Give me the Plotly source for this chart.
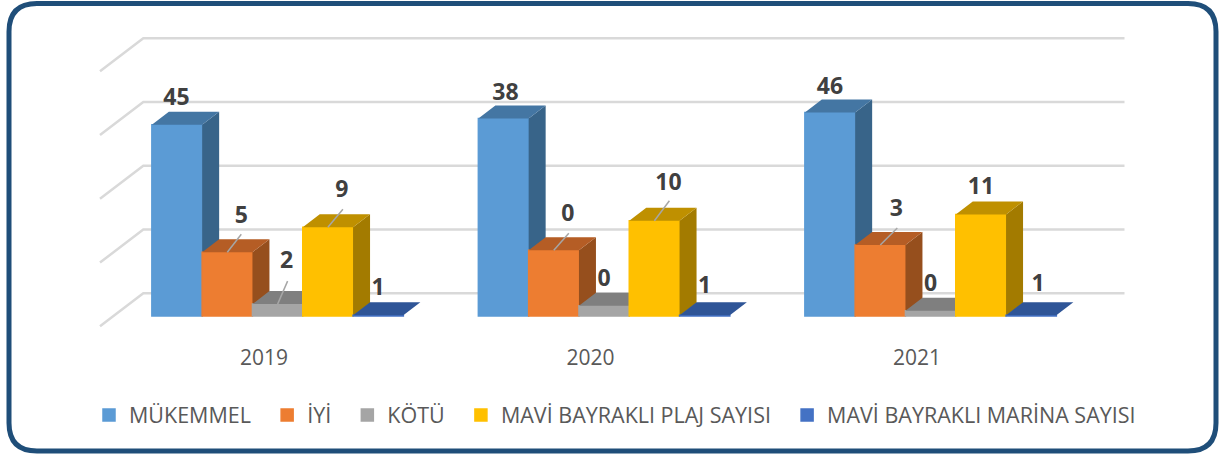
import plotly.graph_objects as go

YEARS = [2019, 2020, 2021]
SERIES = ["MÜKEMMEL", "İYİ", "KÖTÜ", "MAVİ BAYRAKLI PLAJ SAYISI", "MAVİ BAYRAKLI MARİNA SAYISI"]
# bar heights as drawn
MUKEMMEL = [45, 46.5, 47.9]
IYI = [15, 15.5, 16.7]
KOTU = [2.8, 2.4, 1.25]
PLAJ = [20.9, 22.4, 23.9]
MARINA = [0.2, 0.2, 0.2]
HEIGHTS = [MUKEMMEL, IYI, KOTU, PLAJ, MARINA]
# labels as printed on the chart
LABEL_MUKEMMEL = ["45", "38", "46"]
LABEL_IYI = ["5", "0", "3"]
LABEL_KOTU = ["2", "0", "0"]
LABEL_PLAJ = ["9", "10", "11"]
LABEL_MARINA = ["1", "1", "1"]
LABELS = [LABEL_MUKEMMEL, LABEL_IYI, LABEL_KOTU, LABEL_PLAJ, LABEL_MARINA]

# ---- styling / layout ----
W, H = 1220, 454
PL, PR, PT, PB = 95, 1130, 30, 340
PX_X = 326.5          # pixels per year
PX_Y = 4.25           # pixels per value unit
X_REF_PX, Y0_PX = 277.6, 316
FRONT = ["#5B9BD5", "#ED7D31", "#A5A5A5", "#FFC000", "#4472C4"]
TOP = ["#4476A3", "#B55D25", "#7F7F7F", "#BF9000", "#2F5597"]
SIDE = ["#386489", "#964F1D", "#6E6E6E", "#A37B00", "#264478"]
BAR_W = 50.3 / PX_X
DX = 17 / PX_X
DY = 13 / PX_Y
LABEL_DX = [[-0.5, 14, 9, 14, 0], [2, 14, 0, 14, 0], [0, 16, 0, 0, 7]]
LABEL_DY = [[25.2, 35.5, 41.5, 35.5, 25.5], [24.5, 34.5, 25.5, 36.5, 27.5], [24.5, 34.5, 25.5, 26.5, 29.5]]
LEADERS = [(0, 1, 14, 18), (0, 2, 10, 23), (0, 3, 15, 18), (1, 1, 15, 17), (1, 3, 15, 20), (2, 1, 17, 17)]
FONT = "Open Sans"
LEGEND_PAD = "\u00a0\u00a0"


def px2x(p):
    return YEARS[0] + (p - X_REF_PX) / PX_X


def px2y(p):
    return (Y0_PX - p) / PX_Y


fig = go.Figure()

# wall and floor gridlines
gx, gy = [], []
for k in range(5):
    back_y = 293.3 - 63.75 * k
    gx += [px2x(100), px2x(143.3), px2x(1124.5), None]
    gy += [px2y(back_y + 33), px2y(back_y), px2y(back_y), None]
fig.add_trace(go.Scatter(x=gx, y=gy, mode="lines", line=dict(color="#D9D9D9", width=2.5),
                         showlegend=False, hoverinfo="skip", zorder=0))

for s, name in enumerate(SERIES):
    vals = HEIGHTS[s]
    off = (s - 2.5) * BAR_W
    fig.add_trace(go.Bar(x=YEARS, y=vals, name=name + LEGEND_PAD, width=BAR_W, offset=off,
                         marker=dict(color=FRONT[s], line=dict(width=1.5, color=FRONT[s])), zorder=s + 1))
    sx, sy, tx, ty = [], [], [], []
    for yr, v in zip(YEARS, vals):
        xl = yr + off
        xr = xl + BAR_W
        sx += [xr, xr + DX, xr + DX, xr, xr, None]
        sy += [0, DY, v + DY, v, 0, None]
        tx += [xl, xl + DX, xr + DX, xr, xl, None]
        ty += [v, v + DY, v + DY, v, v, None]
    for px_, py_, col in ((sx, sy, SIDE[s]), (tx, ty, TOP[s])):
        fig.add_trace(go.Scatter(x=px_, y=py_, mode="lines", fill="toself", fillcolor=col,
                                 line=dict(width=0, color=col), showlegend=False,
                                 hoverinfo="skip", zorder=s + 1))

# leader lines
lx, ly = [], []
for g, s, dx, dy in LEADERS:
    x0 = YEARS[g] + (s - 2) * BAR_W
    y0 = HEIGHTS[s][g]
    lx += [x0, x0 + dx / PX_X, None]
    ly += [y0, y0 + dy / PX_Y, None]
fig.add_trace(go.Scatter(x=lx, y=ly, mode="lines", line=dict(color="#A6A6A6", width=1.5),
                         showlegend=False, hoverinfo="skip", zorder=10))

# data labels
tx, ty, tt = [], [], []
for g, yr in enumerate(YEARS):
    for s in range(len(SERIES)):
        tx.append(yr + (s - 2) * BAR_W + LABEL_DX[g][s] / PX_X)
        ty.append(HEIGHTS[s][g] + LABEL_DY[g][s] / PX_Y)
        tt.append(LABELS[s][g])
fig.add_trace(go.Scatter(x=tx, y=ty, text=tt, mode="text", textposition="middle center",
                         textfont=dict(family=FONT, size=23, color="#404040", weight="bold"),
                         showlegend=False, hoverinfo="skip", zorder=11))


def fx(p):
    return (p - PL) / (PR - PL)


def fy(p):
    return (PB - p) / (PB - PT)


def rounded(l, t, r, b, c):
    pts = [("M", (l + c, t)), ("L", (r - c, t)), ("Q", (r, t), (r, t + c)), ("L", (r, b - c)),
           ("Q", (r, b), (r - c, b)), ("L", (l + c, b)), ("Q", (l, b), (l, b - c)),
           ("L", (l, t + c)), ("Q", (l, t), (l + c, t))]
    out = []
    for cmd, *xy in pts:
        out.append(cmd + " ".join(f"{fx(a):.5f},{fy(b_):.5f}" for a, b_ in xy))
    return " ".join(out) + " Z"


fig.update_layout(
    width=W, height=H, autosize=False,
    margin=dict(l=PL, r=W - PR, t=PT, b=H - PB, pad=0),
    paper_bgcolor="white", plot_bgcolor="white",
    barmode="overlay",
    xaxis=dict(range=[px2x(PL), px2x(PR)], tickmode="array",
               tickvals=[y - 13.5 / PX_X for y in YEARS], ticktext=[str(y) for y in YEARS],
               showgrid=False, zeroline=False, showline=False, ticks="", ticklabelstandoff=3,
               tickfont=dict(family=FONT, size=21, color="#595959")),
    yaxis=dict(range=[px2y(PB), px2y(PT)], showgrid=False, zeroline=False, showline=False,
               showticklabels=False, ticks=""),
    legend=dict(orientation="h", x=fx(89), xanchor="left", y=fy(415), yanchor="middle",
                font=dict(family=FONT, size=21.5, color="#595959"), traceorder="normal",
                bgcolor="rgba(0,0,0,0)"),
    shapes=[
        dict(type="path", xref="paper", yref="paper", path=rounded(9, 3.5, 1216, 451, 28),
             line=dict(color="#1F4E79", width=5), fillcolor="rgba(0,0,0,0)", layer="above"),
    ],
)

fig.write_html("out.html", config={"displayModeBar": False},
               post_script="document.body.style.margin='0';document.body.style.overflow='hidden';")
